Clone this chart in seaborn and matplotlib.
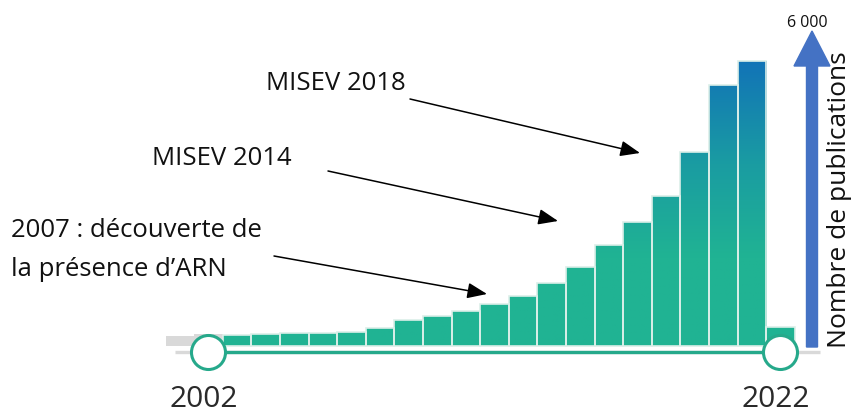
import numpy as np
import pandas as pd
import matplotlib
matplotlib.use("Agg")
import matplotlib.pyplot as plt
import matplotlib.patches as mpatches
from matplotlib.colors import LinearSegmentedColormap
import seaborn as sns

# publications per year (selected range 2003-2022, 2022 incomplete)
years = [2003, 2004, 2005, 2006, 2007, 2008, 2009, 2010, 2011, 2012,
         2013, 2014, 2015, 2016, 2017, 2018, 2019, 2020, 2021, 2022]
counts = [210, 230, 250, 250, 275, 340, 500, 580, 670, 800,
          955, 1200, 1510, 1930, 2370, 2870, 3710, 4990, 5450, 365]
# years outside the slider range (grey)
years_out = [2001, 2002]
counts_out = [200, 230]

range_start, range_end = 2002, 2022
axis_max_label = "6 000"
axis_title = "Nombre de publications"
notes = ["MISEV 2018", "MISEV 2014", "2007 : découverte de\nla présence d\u2019ARN"]

sns.set_theme(style="white")
plt.rcParams['font.family'] = ['Open Sans', 'DejaVu Sans']

W, H = 853, 414
fig = plt.figure(figsize=(W / 100, H / 100), dpi=100)
ax = fig.add_axes([0, 0, 1, 1])

df = pd.DataFrame({"year": years, "n": counts})
df_out = pd.DataFrame({"year": years_out, "n": counts_out})

sns.barplot(data=df_out, x="year", y="n", native_scale=True, width=1.0,
            color="#d9d9d9", saturation=1, edgecolor="#d9d9d9", linewidth=0, ax=ax)
n_grey = len(ax.patches)
sns.barplot(data=df, x="year", y="n", native_scale=True, width=1.0,
            color="#20B393", saturation=1, edgecolor="#dcefe9", linewidth=1.2, ax=ax)

# vertical teal -> blue gradient clipped to each bar
cmap = LinearSegmentedColormap.from_list("tb", [(0, "#20B393"), (0.3, "#20B393"),
                                                (0.62, "#1A9CA2"), (1, "#1170B9")])
grad = np.linspace(0, 1, 256).reshape(-1, 1)
ymax_grad = 5600
for p in ax.patches[n_grey:]:
    x0 = p.get_x()
    x1 = x0 + p.get_width()
    im = ax.imshow(grad, cmap=cmap, origin="lower", aspect="auto",
                   extent=(x0, x1, 0, ymax_grad), zorder=p.get_zorder() - 0.1)
    im.set_clip_path(p)
    p.set_facecolor("none")

# pixel mapping of the original picture
px_year = 28.6
x_left = years[0] - 237 / px_year
ax.set_xlim(x_left, x_left + W / px_year)
u_px = 19.1
ax.set_ylim(-67 * u_px, (H - 67) * u_px)
ax.axis("off")

# slider track
y_track = -6 * u_px
ax.plot([x_left + 175 / px_year, x_left + 820 / px_year], [y_track, y_track],
        color="#d9d9d9", lw=2.4, solid_capstyle="butt", zorder=3)
ax.plot([range_start, range_end], [y_track, y_track], color="#26A98B", lw=2.4,
        solid_capstyle="butt", zorder=4)
ax.scatter([range_start, range_end], [y_track, y_track], s=600, c="white",
           edgecolors="#26A98B", linewidths=2.2, zorder=5)
for yr in (range_start, range_end):
    ax.text(yr - 0.15, -53 * u_px, str(yr), ha="center", va="center",
            fontsize=21.5, color="#2a2a2a")


def fp(x, y):
    return (x, H - y)


# annotations
arrow_kw = dict(arrowstyle="-|>,head_length=1.0,head_width=0.4", color="black",
                lw=1.1, shrinkA=0, shrinkB=0, mutation_scale=12)
ax.annotate("", xy=fp(640, 154), xytext=fp(410, 100), xycoords="figure pixels",
            textcoords="figure pixels", arrowprops=arrow_kw)
ax.annotate("", xy=fp(558, 222), xytext=fp(328, 172), xycoords="figure pixels",
            textcoords="figure pixels", arrowprops=arrow_kw)
ax.annotate("", xy=fp(487, 295), xytext=fp(274, 257), xycoords="figure pixels",
            textcoords="figure pixels", arrowprops=arrow_kw)

ax.annotate(notes[0], xy=fp(266, 84), xycoords="figure pixels", ha="left",
            va="center", fontsize=18.5, color="#111111")
ax.annotate(notes[1], xy=fp(152, 159), xycoords="figure pixels", ha="left",
            va="center", fontsize=18.5, color="#111111")
ax.annotate(notes[2], xy=fp(11, 250), xycoords="figure pixels", ha="left",
            va="center", fontsize=18.5, color="#111111", linespacing=1.7)

# blue axis arrow
arr = mpatches.FancyArrow(8.12, (H - 348) / 100, 0, 3.16, width=0.11,
                          head_width=0.36, head_length=0.35,
                          length_includes_head=True, color="#4472C4",
                          transform=fig.dpi_scale_trans)
fig.add_artist(arr)
ax.annotate(axis_max_label, xy=fp(807, 23), xycoords="figure pixels",
            ha="center", va="center", fontsize=11.5, color="#111111")
ax.annotate(axis_title, xy=fp(839, 200), xycoords="figure pixels",
            ha="center", va="center", fontsize=19, rotation=90, color="#111111")

fig.savefig("out.png", dpi=100)
